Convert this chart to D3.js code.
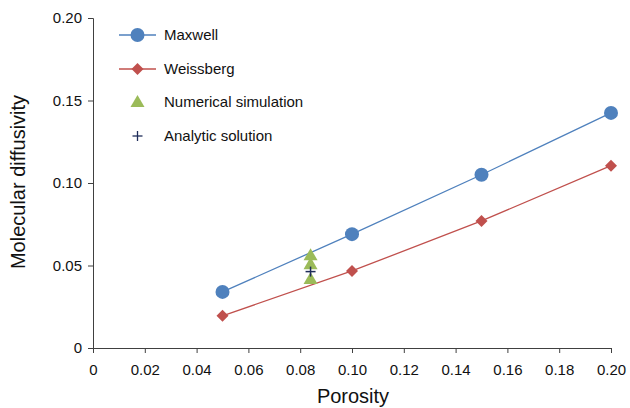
<!DOCTYPE html>
<html><head><meta charset="utf-8">
<script src="https://cdn.jsdelivr.net/npm/d3@7"></script>
<style>body{margin:0;background:#fff;} svg{display:block;font-family:"Liberation Sans",Arial,sans-serif;}</style>
</head><body>
<svg id="c" width="630" height="408"></svg>
<script>
const maxwellX = [0.05, 0.10, 0.15, 0.20];
const maxwellY = [0.034, 0.069, 0.105, 0.1425];
const weissX = [0.05, 0.10, 0.15, 0.20];
const weissY = [0.0195, 0.0467, 0.077, 0.1105];
const numX = [0.084, 0.084, 0.084];
const numY = [0.0562, 0.0508, 0.0418];
const anaX = [0.084];
const anaY = [0.0463];
const xTicks = [0, 0.02, 0.04, 0.06, 0.08, 0.10, 0.12, 0.14, 0.16, 0.18, 0.20];
const xTickLabels = ["0","0.02","0.04","0.06","0.08","0.10","0.12","0.14","0.16","0.18","0.20"];
const yTicks = [0, 0.05, 0.10, 0.15, 0.20];
const yTickLabels = ["0","0.05","0.10","0.15","0.20"];
const legendLabels = ["Maxwell","Weissberg","Numerical simulation","Analytic solution"];

const svg = d3.select("#c");
const x = d3.scaleLinear().domain([0,0.2]).range([93,611]);
const y = d3.scaleLinear().domain([0,0.2]).range([348,18]);
const axisCol = "#404040";
const blue="#4F81BD", red="#C0504D", green="#9BBB59", navy="#1F2D5A";

const xa = svg.append("g").attr("transform","translate(0,348)")
  .call(d3.axisBottom(x).tickValues(xTicks).tickFormat((d,i)=>xTickLabels[i]).tickSizeOuter(0).tickSize(5).tickPadding(11));
const ya = svg.append("g").attr("transform","translate(93,0)")
  .call(d3.axisLeft(y).tickValues(yTicks).tickFormat((d,i)=>yTickLabels[i]).tickSizeOuter(0).tickSize(5).tickPadding(6));
[xa,ya].forEach(a=>{
  a.selectAll("path,line").attr("stroke",axisCol).attr("stroke-width",1);
  a.selectAll("text").attr("fill","#111").style("font-size","15px").style("font-family","'Liberation Sans',Arial,sans-serif");
});

svg.append("text").attr("x",353).attr("y",403).attr("text-anchor","middle").style("font-size","20px").attr("fill","#111").text("Porosity");
svg.append("text").attr("transform","translate(25,182) rotate(-90)").attr("text-anchor","middle").style("font-size","20px").attr("fill","#111").text("Molecular diffusivity");

const line = d3.line().x(d=>x(d[0])).y(d=>y(d[1]));
const mData = maxwellX.map((v,i)=>[v,maxwellY[i]]);
const wData = weissX.map((v,i)=>[v,weissY[i]]);
svg.append("path").attr("d",line(mData)).attr("fill","none").attr("stroke",blue).attr("stroke-width",1.3);
svg.append("path").attr("d",line(wData)).attr("fill","none").attr("stroke",red).attr("stroke-width",1.3);

const circ = d3.symbol().type(d3.symbolCircle).size(Math.PI*49);
const diam = d3.symbol().type(d3.symbolSquare).size(72);
const tri = d3.symbol().type(d3.symbolTriangle).size(85);

svg.selectAll(".m").data(mData).join("path").attr("d",circ).attr("fill",blue)
  .attr("transform",d=>`translate(${x(d[0])},${y(d[1])})`);
svg.selectAll(".w").data(wData).join("path").attr("d",diam).attr("fill",red)
  .attr("transform",d=>`translate(${x(d[0])},${y(d[1])}) rotate(45)`);
const nData = numX.map((v,i)=>[v,numY[i]]);
svg.selectAll(".n").data(nData).join("path").attr("d",tri).attr("fill",green)
  .attr("transform",d=>`translate(${x(d[0])},${y(d[1])+1})`);
const aData = anaX.map((v,i)=>[v,anaY[i]]);
aData.forEach(d=>{
  const g = svg.append("g").attr("transform",`translate(${x(d[0])},${y(d[1])})`);
  g.append("line").attr("x1",-5).attr("x2",5).attr("stroke",navy).attr("stroke-width",1.5);
  g.append("line").attr("y1",-5).attr("y2",5).attr("stroke",navy).attr("stroke-width",1.5);
});

// legend
const ly = [35,69,102,136];
const lg = svg.append("g");
lg.append("line").attr("x1",119).attr("x2",156).attr("y1",ly[0]).attr("y2",ly[0]).attr("stroke",blue).attr("stroke-width",1.3);
lg.append("path").attr("d",circ).attr("fill",blue).attr("transform",`translate(137.5,${ly[0]})`);
lg.append("line").attr("x1",119).attr("x2",156).attr("y1",ly[1]).attr("y2",ly[1]).attr("stroke",red).attr("stroke-width",1.3);
lg.append("path").attr("d",diam).attr("fill",red).attr("transform",`translate(137.5,${ly[1]}) rotate(45)`);
lg.append("path").attr("d",tri).attr("fill",green).attr("transform",`translate(137.5,${ly[2]+1})`);
const pg = lg.append("g").attr("transform",`translate(137.5,${ly[3]})`);
pg.append("line").attr("x1",-5).attr("x2",5).attr("stroke",navy).attr("stroke-width",1.3);
pg.append("line").attr("y1",-5).attr("y2",5).attr("stroke",navy).attr("stroke-width",1.3);
legendLabels.forEach((t,i)=>{
  lg.append("text").attr("x",164).attr("y",ly[i]).attr("dy","0.35em").style("font-size","15px").attr("fill","#111").text(t);
});
</script>
</body></html>
